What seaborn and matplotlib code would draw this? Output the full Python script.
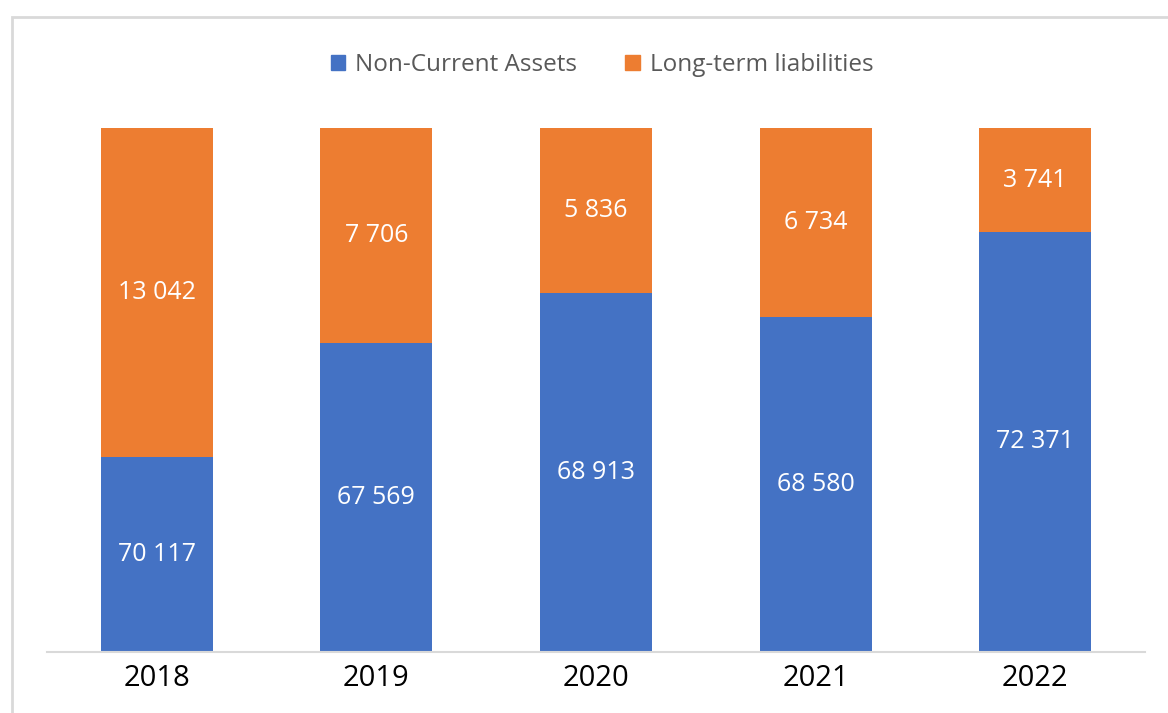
import matplotlib
matplotlib.use('Agg')
import matplotlib.pyplot as plt
import matplotlib.patches as mpatches
import pandas as pd
import seaborn as sns

years = ['2018', '2019', '2020', '2021', '2022']
# label values as printed on the chart
assets = [70117, 67569, 68913, 68580, 72371]
liabilities = [13042, 7706, 5836, 6734, 3741]
# share of bar height (%) as drawn in the reference
assets_share = [37.3, 59.0, 68.6, 64.0, 80.2]
liab_share = [62.7, 41.0, 31.4, 36.0, 19.8]

blue = '#4472c4'
orange = '#ed7d31'

sns.set_theme(style='white')
plt.rcParams['font.family'] = ['Open Sans', 'DejaVu Sans']

df = pd.DataFrame({'year': years, 'assets': assets_share, 'liab': liab_share})
df['total'] = df['assets'] + df['liab']

fig = plt.figure(figsize=(11.68, 7.13), dpi=100)
ax = fig.add_axes([47 / 1168, 1 - 652 / 713, (1145 - 47) / 1168, (652 - 128.3) / 713])

sns.barplot(data=df, x='year', y='total', color=orange, saturation=1, width=0.51,
            linewidth=0, ax=ax)
sns.barplot(data=df, x='year', y='assets', color=blue, saturation=1, width=0.51,
            linewidth=0, ax=ax)

fmt = lambda v: f'{v:,}'.replace(',', ' ')
for i, row in df.iterrows():
    ax.text(i, row['assets'] / 2, fmt(assets[i]), ha='center', va='center',
            color='white', fontsize=18)
    ax.text(i, row['assets'] + row['liab'] / 2, fmt(liabilities[i]), ha='center',
            va='center', color='white', fontsize=18)

ax.set_ylim(0, 100)
ax.set_xlim(-0.5, 4.5)
ax.set_xlabel('')
ax.set_ylabel('')
ax.set_yticks([])
ax.tick_params(axis='x', labelsize=21, colors='black', length=0, pad=9)
for s in ['top', 'right', 'left']:
    ax.spines[s].set_visible(False)
ax.spines['bottom'].set_color('#d9d9d9')
ax.spines['bottom'].set_linewidth(1.5)

handles = [mpatches.Patch(color=blue, label='Non-Current Assets'),
           mpatches.Patch(color=orange, label='Long-term liabilities')]
fig.legend(handles=handles, loc='center', bbox_to_anchor=(602 / 1168, 1 - 65 / 713),
           ncol=2, frameon=False, fontsize=17.5, labelcolor='#595959',
           handlelength=0.6, handleheight=0.6, handletextpad=0.4, columnspacing=2.0)

# outer chart frame (right and bottom edges fall outside the image)
fig.patches.append(mpatches.Rectangle((12 / 1168, -0.1), 1.2, 1 - 17 / 713 + 0.1,
                                      transform=fig.transFigure, fill=False,
                                      edgecolor='#d9d9d9', linewidth=2))

fig.savefig('out.png', dpi=100)
